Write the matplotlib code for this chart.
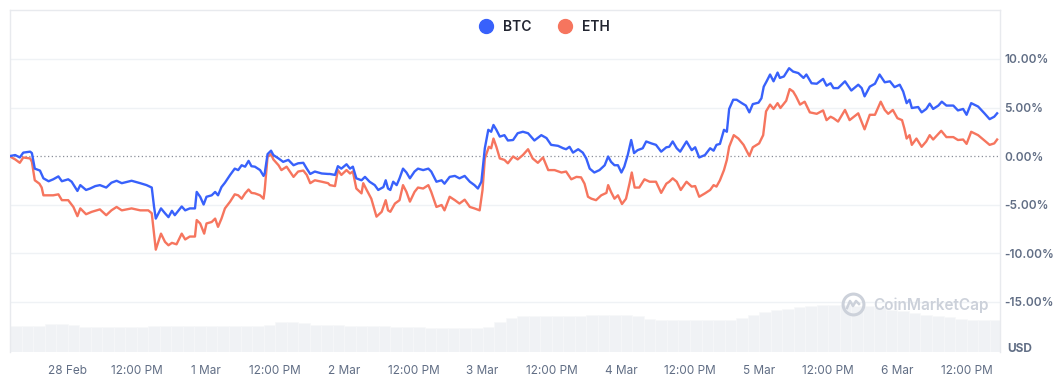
import matplotlib
matplotlib.use('Agg')
import matplotlib.pyplot as plt
from matplotlib.lines import Line2D
from matplotlib.ticker import FuncFormatter

# hours since 27 Feb 14:00, % change
btc_h = [0, 0.9, 1.7, 2.3, 3.5, 3.8, 4.3, 5.2, 5.8, 6.7, 7.5, 8.4, 9.0, 10.1, 10.7, 11.7, 12.2, 13.2, 13.9, 14.8,
         15.6, 16.7, 17.6, 18.5, 19.4, 21.1, 22.6, 23.7, 24.6, 25.0, 25.3, 26.2,
         26.9, 27.5, 28.1, 28.6, 29.8, 30.4, 31.2, 32.1, 32.4, 33.0, 33.6, 34.1, 35.0, 35.6, 36.1, 36.7, 37.3, 38.2,
         39.0, 39.6, 40.2, 40.8, 41.4, 41.9, 42.5, 43.4, 44.0, 44.2, 44.7, 45.3, 45.7, 46.6, 47.4, 48.3, 49.2, 50.0,
         50.9, 51.5, 52.1, 52.9, 54.1, 55.2,
         55.5, 56.4, 56.9, 57.5, 58.4, 59.0, 59.5, 60.1, 61.0, 61.6, 62.4, 63.3, 63.9, 64.8, 65.2, 65.6, 66.0, 66.5,
         67.1, 67.6, 68.2, 68.8, 69.4, 70.2, 70.8, 71.7, 72.6, 73.1, 74.0, 74.9, 75.4, 76.3, 77.2, 78.0, 78.9, 79.8,
         80.6, 81.2, 81.8, 82.4, 83.0, 83.5, 83.9, 84.4, 85.0, 85.8,
         86.4, 87.3, 88.1, 89.0, 89.9, 91.0, 92.2, 93.1, 93.9, 95.1, 96.0, 96.5, 97.1, 97.7, 98.6, 99.4, 100.0, 100.6,
         101.4, 102.3, 103.2, 103.8, 104.3, 104.9, 105.5, 106.1, 106.6, 107.2, 107.8, 108.3, 108.9, 109.8, 110.4,
         111.3, 112.1, 113.0, 113.9, 114.4,
         115.0, 115.7, 116.3, 117.4, 118.3, 118.9, 119.6, 120.6, 121.5, 122.1, 122.6, 123.2, 123.9, 124.4, 124.8,
         125.5, 126.1, 127.0, 127.7, 128.3, 128.9, 129.9, 130.4, 130.8, 131.3, 131.9, 132.5, 133.2, 133.6, 134.3,
         135.2, 135.9, 136.8, 137.7, 138.2, 139.1, 140.0, 141.1, 141.7, 142.4, 142.9,
         143.7, 144.9, 146.0, 147.2, 147.8, 148.3, 149.2, 150.1, 150.9, 151.8, 152.7, 153.5, 154.4, 155.0, 155.6,
         156.1, 156.5, 157.6, 158.2, 159.0, 159.6, 160.2, 161.1, 161.7, 162.5, 163.7, 164.5, 165.4, 166.0, 166.8,
         168.0, 169.1, 170.0, 170.8, 171.3]
btc = [0, 0.1, -0.15, 0.35, 0.45, 0.3, -1.3, -1.5, -2.3, -2.6, -2.4, -2.1, -2.6, -2.4, -2.65, -3.6, -3.0, -3.5, -3.35, -3.1,
       -3.0, -3.25, -2.75, -2.55, -2.8, -2.55, -2.8, -3.0, -3.25, -5.25, -6.45, -5.4,
       -5.9, -6.3, -5.65, -6.1, -5.2, -5.6, -5.4, -5.4, -3.7, -4.2, -5.0, -4.2, -4.05, -3.7, -4.05, -3.2, -2.75, -1.95,
       -1.3, -1.45, -0.95, -1.1, -0.5, -1.05, -1.1, -1.45, -2.05, -1.8, 0.2, 0.55, 0.1, -0.25, -0.6, -0.4, -0.95, -0.75,
       -0.7, -1.3, -1.85, -1.6, -1.8, -1.85,
       -1.85, -1.95, -1.05, -1.3, -0.85, -1.3, -1.1, -2.3, -2.5, -2.15, -2.65, -3.0, -3.5, -3.2, -2.5, -3.35, -3.5, -2.65,
       -3.0, -2.3, -1.3, -1.7, -2.3, -1.6, -1.3, -1.45, -1.3, -1.6, -2.65, -2.5, -2.85, -2.15, -2.05, -2.3, -2.05, -2.65,
       -3.0, -3.35, -2.65, 0.8, 2.7, 2.5, 3.2, 2.7, 2.0, 2.15,
       1.6, 1.65, 2.35, 2.5, 2.35, 1.6, 2.15, 1.85, 1.15, 1.05, 0.8, 0.7, 0.95, 0.35, 0.7, 0.35, -0.25, -1.3,
       -1.7, -1.45, -0.95, -0.05, -0.6, -0.95, -0.95, -1.7, -1.1, 0.1, 1.65, 0.3, 0.6, 0.8, 1.5,
       1.3, 1.15, 0.45, 0.9, 0.95,
       1.5, 0.8, 0.45, 1.5, 0.6, 0.9, -0.15, 0.1, 0.8, 0.55, 1.15, 1.25, 2.7, 2.5, 4.85,
       5.8, 5.8, 5.45, 5.2, 4.5, 5.35, 5.5, 5.95, 7.15, 7.7, 8.4, 7.7, 8.6, 8.05, 8.2,
       9.05, 8.7, 8.55, 8.05, 8.4, 7.5, 7.45, 7.95, 7.25, 7.5, 7.0,
       7.0, 7.7, 6.75, 7.35, 7.0, 6.15, 7.15, 7.45, 8.4, 7.6, 7.7, 7.1, 7.35, 6.65, 5.45,
       5.8, 4.95, 5.05, 4.5, 4.85, 5.4, 4.85, 5.2, 5.6, 5.2, 5.2, 4.7, 4.85, 4.25, 5.45,
       5.1, 4.4, 3.8, 4.05, 4.4]

eth_h = [0, 0.9, 1.7, 2.3, 3.5, 3.8, 4.3, 5.1, 5.5, 5.8, 7.5, 8.4, 9.0, 10.1, 11.0, 11.7, 12.2, 13.2, 14.2, 15.6,
         16.7, 17.6, 18.5, 19.4, 21.1, 22.6, 24.0, 24.6, 25.0, 25.3, 26.2,
         26.9, 27.5, 28.1, 28.9, 29.8, 30.4, 31.2, 32.1, 32.4, 33.0, 33.7, 34.1, 35.0, 35.6, 36.1, 36.7, 37.3, 38.2,
         39.0, 39.6, 40.2, 40.8, 41.4, 41.9, 42.5, 43.4, 44.0, 44.2, 44.7, 45.3, 45.7, 46.6, 47.1, 48.0, 49.2, 50.0,
         50.9, 51.5, 52.1, 52.9, 54.1, 55.2,
         55.5, 56.4, 56.9, 57.5, 58.4, 59.0, 59.5, 60.1, 61.0, 61.3, 61.9, 62.7, 63.6, 64.5, 65.2, 65.6, 66.0, 66.8,
         67.6, 68.2, 68.8, 69.4, 70.2, 70.8, 71.7, 72.6, 73.1, 74.0, 74.9, 75.4, 76.3, 77.2, 78.0, 78.9, 79.8, 80.6,
         81.5, 82.0, 82.4, 83.1, 83.5, 83.9, 84.4, 85.0, 85.8,
         86.4, 87.3, 88.1, 89.0, 89.9, 90.7, 91.6, 92.5, 93.4, 94.5, 95.7, 96.5, 97.4, 98.3, 99.1, 99.7, 100.3, 100.9,
         101.7, 102.6, 103.5, 103.8, 104.3, 104.9, 105.5, 106.2, 106.9, 107.5, 107.9, 108.4, 109.2, 110.1, 111.0,
         112.1, 113.0, 113.9, 114.4,
         115.0, 115.7, 116.4, 117.4, 118.3, 118.9, 119.6, 120.6, 121.5, 122.1, 122.6, 123.2, 123.9, 124.4, 124.8,
         125.6, 126.4, 127.3, 128.3, 128.9, 130.0, 130.7, 131.2, 131.9, 132.5, 133.2, 133.7, 134.7, 135.3, 135.9,
         136.4, 137.1, 137.9, 138.8, 140.0, 141.1, 141.7, 142.4, 142.9,
         143.7, 144.9, 145.7, 147.2, 148.3, 149.2, 150.1, 151.1, 151.8, 152.4, 153.2, 154.0, 154.8, 155.2, 155.6,
         156.1, 156.5, 157.3, 158.2, 159.0, 159.6, 160.2, 161.6, 162.5, 163.7, 164.5, 165.4, 166.0, 166.8, 168.0,
         169.1, 170.0, 170.8, 171.3]
eth = [-0.05, -0.35, -0.7, -0.15, -0.25, -0.6, -2.5, -2.85, -3.25, -4.05, -4.05, -3.95, -4.55, -4.55, -5.25, -6.2, -5.4,
       -6.0, -5.75, -5.5, -6.1, -5.6, -5.25, -5.6, -5.4, -5.6, -5.6, -5.9, -8.0, -9.65, -8.0,
       -8.85, -9.2, -8.95, -9.1, -8.0, -8.6, -8.3, -8.3, -6.6, -6.95, -8.0, -6.95, -6.8, -6.45, -7.3, -6.45, -5.4, -4.7,
       -3.95, -4.05, -4.4, -3.85, -3.45, -3.8, -3.85, -4.05, -4.4, -3.5, -0.05, 0.2, -0.35, -0.95, -1.45, -1.1, -2.15,
       -1.6, -1.5, -1.95, -2.8, -2.5, -2.65, -2.8,
       -3.0, -3.1, -1.45, -1.95, -1.45, -1.8, -1.6, -3.35, -3.85, -2.8, -3.5, -4.4, -6.25, -5.75, -4.55, -5.6, -5.75,
       -4.9, -4.55, -3.0, -3.7, -4.7, -3.7, -3.25, -3.35, -3.0, -3.7, -5.25, -5.05, -5.6, -4.2, -4.55, -4.9, -4.5,
       -5.25, -5.4, -5.6, -3.5, -0.25, 0.95, 0.8, 1.8, 0.95, -0.25, -0.4,
       -0.75, -0.05, -0.35, 0.1, 0.7, -0.25, -0.7, -0.15, -1.45, -1.45, -1.7, -1.6, -2.4, -2.15, -2.2, -2.85, -4.2,
       -4.4, -4.55, -4.05, -3.8, -3.0, -3.7, -4.4, -4.05, -4.95, -4.4, -2.85, -1.7, -3.25, -3.25, -2.4, -2.65,
       -2.65, -3.8, -2.85, -2.65,
       -2.3, -2.65, -3.5, -2.65, -3.15, -3.1, -4.2, -3.85, -3.5, -3.0, -3.15, -2.5, -1.45, -0.4, 0.95,
       2.15, 1.8, 1.15, 0.0, 0.9, 1.3, 2.15, 4.6, 5.3, 4.85, 5.45, 4.95, 5.7, 6.9, 6.65,
       6.15, 5.3, 5.6, 4.5, 4.35, 4.7, 3.7, 4.05, 3.9,
       3.55, 4.75, 3.7, 4.4, 2.75, 4.25, 4.25, 5.6, 4.75, 4.35, 4.75, 3.9, 3.7, 2.85, 1.8,
       2.15, 1.15, 1.8, 0.95, 1.5, 2.15, 1.7, 2.6, 1.95, 1.95, 1.65, 1.7, 1.25, 2.5, 2.15,
       1.6, 1.15, 1.3, 1.7]

# volume, 2-hour buckets (arbitrary units)
vol_h = list(range(1, 172, 2))
vol = [65, 65, 66, 69, 70, 67, 63, 62, 62, 62, 62, 62, 64, 65, 65, 65, 64, 64, 64, 64,
       64, 64, 68, 74, 75, 72, 68, 67, 67, 66, 64, 64, 64, 63, 63, 62, 61, 61, 61, 61,
       61, 62, 75, 86, 90, 90, 90, 90, 90, 91, 92, 92, 92, 93, 90, 82, 79, 79, 79, 79,
       79, 79, 80, 86, 92, 100, 106, 108, 112, 116, 117, 118, 117, 116, 114, 112, 106, 102,
       97, 93, 91, 88, 83, 80, 79, 79]

tick_h = [10, 22, 34, 46, 58, 70, 82, 94, 106, 118, 130, 142, 154, 166]
tick_labels = ['28 Feb', '12:00 PM', '1 Mar', '12:00 PM', '2 Mar', '12:00 PM', '3 Mar',
               '12:00 PM', '4 Mar', '12:00 PM', '5 Mar', '12:00 PM', '6 Mar', '12:00 PM']
y_ticks = [-15, -10, -5, 0, 5, 10]

BTC_C = '#3861FB'
ETH_C = '#F6755E'
GRID = '#eff2f5'
TXT = '#616e85'
WM = '#ccd1da'

plt.rcParams['font.family'] = ['Inter', 'DejaVu Sans']

fig = plt.figure(figsize=(10.55, 3.82), dpi=100)
rect = [10 / 1055, 30 / 382, 990 / 1055, 342 / 382]

vax = fig.add_axes(rect)
vax.bar(vol_h, vol, width=2.0, color='#f0f2f5', edgecolor='#f7f8fa', linewidth=0.4)
vax.set_xlim(0, 171.8)
vax.set_ylim(0, 855)
vax.axis('off')

ax = fig.add_axes(rect)
ax.patch.set_visible(False)
ax.set_xlim(0, 171.8)
ax.set_ylim(-20.2, 15.05)

for g in [-15, -10, -5, 5, 10]:
    ax.axhline(g, color=GRID, lw=1.0, zorder=0)
ax.axhline(0, color='#8a8f99', lw=0.9, ls=(0, (1, 2)), zorder=1)

ax.plot(eth_h, eth, color=ETH_C, lw=1.7, zorder=3)
ax.plot(btc_h, btc, color=BTC_C, lw=1.7, zorder=4)

for s in ['top', 'left', 'right']:
    ax.spines[s].set_color('#e8eaee')
    ax.spines[s].set_linewidth(1.0)
ax.spines['bottom'].set_visible(False)

ax.yaxis.tick_right()
ax.set_yticks(y_ticks)
ax.yaxis.set_major_formatter(FuncFormatter(lambda v, p: '%.2f%%' % v))
ax.tick_params(axis='y', length=0, pad=3, labelsize=8.5, labelcolor=TXT)
for lab in ax.get_yticklabels():
    lab.set_fontweight('semibold')

ax.set_xticks(tick_h)
ax.set_xticklabels(tick_labels)
ax.tick_params(axis='x', length=0, pad=9, labelsize=8.5, labelcolor=TXT)

fig.text(1007 / 1055, 1 - 349 / 382, 'USD', fontsize=8.5, fontweight='bold', color=TXT, va='center', ha='left')

# watermark
fig.text(873 / 1055, 1 - 305 / 382, 'CoinMarketCap', fontsize=11, fontweight='semibold', color=WM,
         va='center', ha='left')
ax.plot([853 / 1055], [1 - 304 / 382], marker='o', ms=15, mfc='none', mec=WM, mew=2.2,
        transform=fig.transFigure, clip_on=False)
wx = [847, 850, 853, 856, 859]
wy = [308, 301, 306, 301, 304]
ax.plot([v / 1055 for v in wx], [1 - v / 382 for v in wy], color=WM, lw=1.8,
        transform=fig.transFigure, clip_on=False)

handles = [Line2D([], [], ls='none', marker='o', ms=10, color=BTC_C),
           Line2D([], [], ls='none', marker='o', ms=10, color=ETH_C)]
leg = fig.legend(handles, ['BTC', 'ETH'], loc='center', bbox_to_anchor=(541 / 1055, 1 - 27 / 382), ncol=2,
                 frameon=False, handletextpad=0.2, columnspacing=1.4, fontsize=10)
for t in leg.get_texts():
    t.set_fontweight('semibold')
    t.set_color('#222531')

fig.savefig('out.png', dpi=100)
